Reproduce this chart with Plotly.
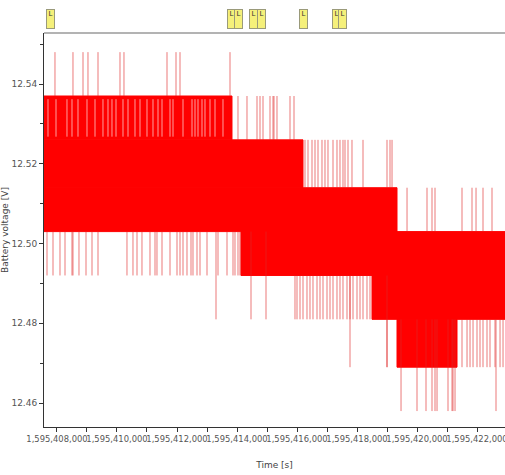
import plotly.graph_objects as go

T0 = 1_595_400_000  # time base [s]

# quantised voltage levels [V]
levels = [12.458, 12.469, 12.481, 12.492, 12.503, 12.514, 12.526, 12.537, 12.548]

# densely toggling (solid) bands: start/end time offsets and low/high level
band_start = [7567, 7567, 7567, 14133, 18500, 19333]
band_end = [13833, 16200, 19333, 23500, 23500, 21333]
band_low = [12.526, 12.514, 12.503, 12.492, 12.481, 12.469]
band_high = [12.537, 12.526, 12.514, 12.503, 12.492, 12.481]

# quiet moments inside the top band (no toggling 12.526 <-> 12.537)
t_quiet_526_537 = [7700, 7967, 8333, 8500, 8700, 9000, 9267, 9533, 9700, 9833, 9967,
                   10200, 10367, 10600, 10767, 11000, 11200, 11367, 11500, 11767, 11867,
                   12200, 12500, 12600, 12700, 12833, 12933, 13100, 13267, 13533]

# isolated transitions (time offsets) per level pair
t_537_548 = [7933, 8533, 8867, 9033, 9367, 10100, 10233, 11667, 11967, 12100, 13767]
t_526_537 = [14033, 14333, 14667, 14767, 14867, 15100, 15200, 15233, 15333, 15767, 15900]
t_514_526 = [16267, 16367, 16500, 16600, 16700, 16833, 16933, 17033, 17200, 17333,
             17433, 17533, 17600, 17700, 17833, 18200, 19000, 19100, 19167]
t_503_514 = [19667, 20333, 20500, 20600, 21500, 21833, 21967, 22200, 22500]
t_492_503 = [7667, 7867, 8100, 8267, 8500, 8533, 8733, 8967, 9167, 9367, 10333, 10533,
             10667, 10833, 11100, 11267, 11333, 11500, 11767, 12000, 12100, 12200,
             12333, 12467, 12533, 12667, 12767, 13000, 13367, 13667, 13867, 13933,
             14033, 14100]
t_481_492 = [15933, 16000, 16100, 16200, 16333, 16433, 16533, 16667, 16767, 16867,
             17000, 17100, 17200, 17333, 17433, 17533, 17667, 17767, 17867, 18000,
             18100, 18200, 18333, 18433]
t_481_503 = [13300, 14467, 14967]
t_469_481 = [19000, 21500, 21667, 21767, 21867, 22000, 22100, 22200, 22333, 22433,
             22600, 22767, 22867]
t_469_492 = [17767, 19000]
t_458_481 = [19467, 20000, 20300, 20500, 20600, 20667, 21033, 21167, 21200, 21267, 22633]

# event markers at the top
event_t = [7767, 13833, 14050, 14550, 14817, 16217, 17333, 17500]
event_label = ["L"] * len(event_t)

# axis ticks
x_ticks = [8000, 10000, 12000, 14000, 16000, 18000, 20000, 22000]
y_ticks = [12.46, 12.48, 12.50, 12.52, 12.54]

RED = "#ff0000"
SPIKE = "rgba(222,40,40,0.62)"
QUIET = "rgba(255,225,225,0.7)"

fig = go.Figure()


def vlines(ts, lo, hi, color, width=1):
    xs, ys = [], []
    for t in ts:
        xs += [T0 + t, T0 + t, None]
        ys += [lo, hi, None]
    fig.add_trace(go.Scatter(x=xs, y=ys, mode="lines",
                             line=dict(width=width, color=color),
                             hoverinfo="skip", showlegend=False))


for s, e, lo, hi in zip(band_start, band_end, band_low, band_high):
    fig.add_trace(go.Scatter(
        x=[T0 + s, T0 + e, T0 + e, T0 + s, T0 + s],
        y=[lo, lo, hi, hi, lo],
        fill="toself", fillcolor=RED, mode="lines",
        line=dict(width=1, color=RED), hoverinfo="skip", showlegend=False))

vlines(t_quiet_526_537, 12.5268, 12.5362, QUIET)

groups = [
    (t_537_548, 12.537, 12.548),
    (t_526_537, 12.526, 12.537),
    (t_514_526, 12.514, 12.526),
    (t_503_514, 12.503, 12.514),
    (t_492_503, 12.492, 12.503),
    (t_481_492, 12.481, 12.492),
    (t_481_503, 12.481, 12.503),
    (t_469_481, 12.469, 12.481),
    (t_469_492, 12.469, 12.492),
    (t_458_481, 12.458, 12.481),
]
for ts, lo, hi in groups:
    vlines(ts, lo, hi, SPIKE)

for t, lab in zip(event_t, event_label):
    fig.add_annotation(
        x=T0 + t, xref="x", y=1, yref="paper", yanchor="middle", yshift=14,
        text=lab, showarrow=False, font=dict(size=7, color="#333333", family="DejaVu Sans"),
        bgcolor="#f5f07a", bordercolor="#9a9a7a", borderwidth=1, borderpad=0,
        width=7, height=18, valign="top")

fig.add_shape(type="line", xref="paper", yref="paper", x0=0, x1=1, y0=1, y1=1,
              line=dict(color="#9a9a9a", width=1.5))

fig.update_layout(
    width=505, height=475,
    margin=dict(l=44, r=0, t=33, b=48, autoexpand=False),
    paper_bgcolor="white", plot_bgcolor="white",
    font=dict(family="DejaVu Sans", size=9, color="#555555"),
    xaxis=dict(
        range=[T0 + 7567, T0 + 22933],
        tickmode="array", tickvals=[T0 + v for v in x_ticks],
        ticktext=[f"{T0 + v:,d}" for v in x_ticks],
        tickfont=dict(size=8.4),
        tickangle=0, ticks="outside", ticklen=4, tickcolor="#333333",
        ticklabeloverflow="allow", automargin=False,
        minor=dict(dtick=1000, tick0=T0 + 8000, ticks="outside", ticklen=4, tickcolor="#333333"),
        showline=True, linecolor="#333333", linewidth=1,
        showgrid=False, zeroline=False,
        title=dict(text="Time [s]", font=dict(size=9, color="#444444"), standoff=18),
    ),
    yaxis=dict(
        range=[12.454, 12.5528],
        tickmode="array", tickvals=y_ticks, ticktext=[f"{v:.2f}" for v in y_ticks],
        ticks="outside", ticklen=4, tickcolor="#333333", automargin=False,
        minor=dict(dtick=0.01, tick0=12.46, ticks="outside", ticklen=3, tickcolor="#333333"),
        showline=True, linecolor="#333333", linewidth=1,
        showgrid=False, zeroline=False,
        title=dict(text="Battery voltage [V]", font=dict(size=9, color="#444444"), standoff=6),
    ),
)

fig.write_html("out.html")
